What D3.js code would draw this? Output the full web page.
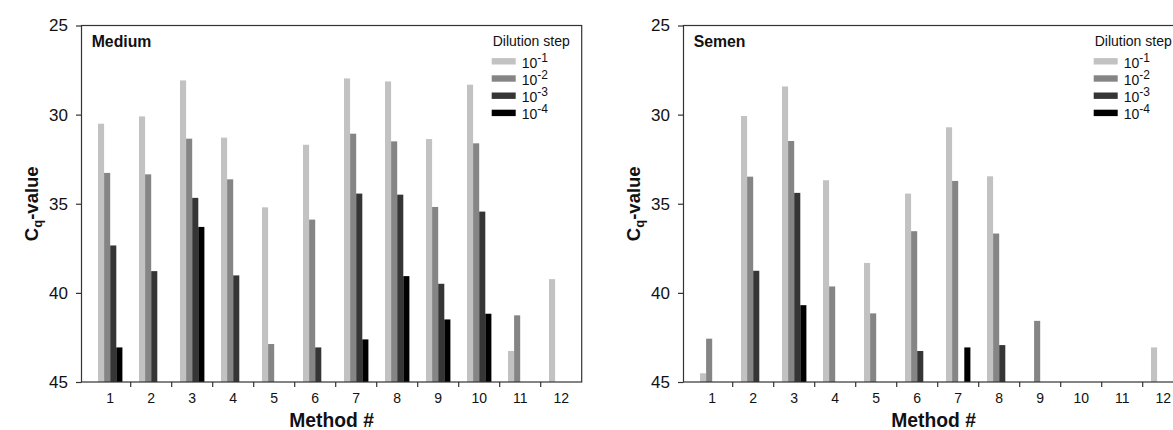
<!DOCTYPE html>
<html>
<head>
<meta charset="utf-8">
<script src="https://cdn.jsdelivr.net/npm/d3@7"></script>
<style>
  html, body { margin: 0; padding: 0; background: #fff; }
  svg { display: block; font-family: "Liberation Sans", Arial, sans-serif; }
</style>
</head>
<body>
<svg id="chart" width="1173" height="430"></svg>
<script>
// ---- data ----
const methods = ["1","2","3","4","5","6","7","8","9","10","11","12"];
const dilutionExponents = ["-1","-2","-3","-4"];
const yTicks = [25, 30, 35, 40, 45];
const panelTitles = ["Medium", "Semen"];

const mediumD1 = [30.51, 30.10, 28.08, 31.29, 35.20, 31.69, 27.97, 28.14, 31.37, 28.32, 43.26, 39.23];
const mediumD2 = [33.27, 33.35, 31.35, 33.63, 42.87, 35.89, 31.07, 31.50, 35.18, 31.61, 41.26, null];
const mediumD3 = [37.34, 38.78, 34.67, 39.02, null, 43.06, 34.43, 34.49, 39.49, 35.44, null, null];
const mediumD4 = [43.06, null, 36.30, null, null, null, 42.61, 39.06, 41.49, 41.17, null, null];

const semenD1 = [44.51, 30.08, 28.42, 33.68, 38.32, 34.43, 30.71, 33.46, null, null, null, 43.06];
const semenD2 = [42.57, 33.48, 31.48, 39.64, 41.15, 36.54, 33.72, 36.67, 41.57, null, null, null];
const semenD3 = [null, 38.76, 34.39, null, null, 43.26, null, 42.93, null, null, null, null];
const semenD4 = [null, null, 40.69, null, null, null, 43.06, null, null, null, null, null];

const panels = [
  { title: panelTitles[0], series: [mediumD1, mediumD2, mediumD3, mediumD4] },
  { title: panelTitles[1], series: [semenD1, semenD2, semenD3, semenD4] }
];

// ---- styles ----
const colors = ["#c2c2c2", "#858585", "#353535", "#000000"];
const axisColor = "#333";
const textColor = "#111";

const svg = d3.select("#chart");

const plotTop = 25.5, plotBottom = 382;
const plotWidth = 500.2;
const bandOffset = 8.2, bandStep = 41;
const panelX = [81.5, 683.5];

const y = d3.scaleLinear().domain([25, 45]).range([plotTop, plotBottom]);

panels.forEach((p, pi) => {
  const x0 = panelX[pi];
  const g = svg.append("g").attr("transform", `translate(${x0},0)`);

  const x = d3.scaleBand()
    .domain(methods)
    .range([bandOffset, bandOffset + bandStep * methods.length])
    .paddingInner(0).paddingOuter(0);

  const sub = d3.scaleBand()
    .domain(d3.range(4))
    .range([0, 24.4]);
  const groupOff = (x.bandwidth() - 24.4) / 2;

  // bars
  p.series.forEach((vals, si) => {
    g.append("g").selectAll("rect")
      .data(methods.map((m, i) => ({ m, v: vals[i] })).filter(d => d.v != null))
      .join("rect")
      .attr("x", d => x(d.m) + groupOff + sub(si))
      .attr("width", sub.bandwidth())
      .attr("y", d => y(d.v))
      .attr("height", d => y(45) - y(d.v))
      .attr("fill", colors[si]);
  });

  // frame
  g.append("rect")
    .attr("x", 0).attr("y", plotTop)
    .attr("width", plotWidth).attr("height", plotBottom - plotTop)
    .attr("fill", "none").attr("stroke", axisColor).attr("stroke-width", 1.2);

  // y axis
  const yAxis = g.append("g")
    .call(d3.axisLeft(y).tickValues(yTicks).tickSize(5.5).tickPadding(8).tickFormat(d3.format("d")));
  yAxis.select(".domain").remove();
  yAxis.selectAll(".tick line").attr("stroke", axisColor).attr("stroke-width", 1.2);
  yAxis.selectAll(".tick text")
    .attr("font-size", 17).attr("fill", textColor)
    .attr("font-family", "Liberation Sans, Arial, sans-serif");

  // x axis labels
  const xAxis = g.append("g")
    .attr("transform", `translate(0,${plotBottom})`)
    .call(d3.axisBottom(x).tickSize(0).tickPadding(11));
  xAxis.select(".domain").remove();
  xAxis.selectAll(".tick text")
    .attr("font-size", 14).attr("fill", textColor)
    .attr("font-family", "Liberation Sans, Arial, sans-serif");

  // x boundary ticks
  g.append("g").selectAll("line")
    .data(methods.slice(1))
    .join("line")
    .attr("x1", d => x(d)).attr("x2", d => x(d))
    .attr("y1", plotBottom).attr("y2", plotBottom + 5)
    .attr("stroke", axisColor).attr("stroke-width", 1.2);

  // panel title
  g.append("text")
    .attr("x", 10.2).attr("y", 47)
    .attr("font-size", 15.8).attr("font-weight", "bold").attr("fill", textColor)
    .text(p.title);

  // axis titles
  g.append("text")
    .attr("x", plotWidth / 2).attr("y", 427)
    .attr("text-anchor", "middle")
    .attr("font-size", 19.3).attr("font-weight", "bold").attr("fill", textColor)
    .text("Method #");

  const yl = g.append("text")
    .attr("transform", `translate(${-44},${(plotTop + plotBottom) / 2}) rotate(-90)`)
    .attr("text-anchor", "middle")
    .attr("font-size", 18.5).attr("font-weight", "bold").attr("fill", textColor);
  yl.append("tspan").text("C");
  yl.append("tspan").attr("font-size", 13).attr("dy", 4).text("q");
  yl.append("tspan").attr("dy", -4).text("-value");

  // legend
  const lg = g.append("g").attr("transform", "translate(410.2,0)");
  lg.append("text")
    .attr("x", 1).attr("y", 46.3)
    .attr("font-size", 14).attr("fill", textColor)
    .text("Dilution step");
  dilutionExponents.forEach((e, i) => {
    const cy = 61.3 + i * 17.2;
    lg.append("rect")
      .attr("x", 0).attr("y", cy - 3.2)
      .attr("width", 24).attr("height", 6.4)
      .attr("fill", colors[i]);
    const t = lg.append("text")
      .attr("x", 30).attr("y", cy + 6.5)
      .attr("font-size", 14).attr("fill", textColor);
    t.append("tspan").text("10");
    t.append("tspan").attr("font-size", 12).attr("dy", -6).text(e);
  });
});
</script>
</body>
</html>
